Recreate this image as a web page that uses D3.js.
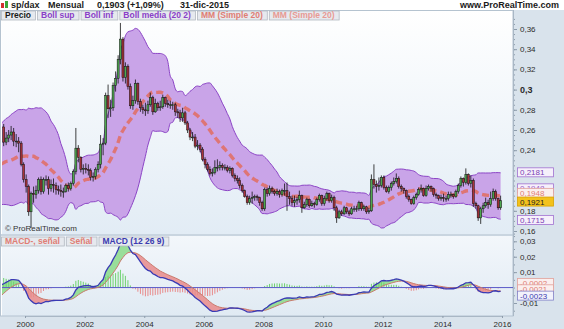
<!DOCTYPE html>
<html>
<head>
<meta charset="utf-8">
<script src="https://cdn.jsdelivr.net/npm/d3@7"></script>
<style>
body { margin: 0; background: #fff; }
svg { display: block; font-family: "Liberation Sans", Arial, sans-serif; }
</style>
</head>
<body>
<div id="chart"></div>
<script>
// monthly closes Jan 1997 - Mar 1999, only needed so the indicators are warmed up at the left edge
let warmupCloses = [.262,.249,.231,.242,.247,.236,.222,.225,.227,.246,.239,.228,
  .221,.223,.216,.218,.196,.192,.191,.198,.227,.235,.234,.246,
  .248,.255,.263]

// visible candles, Apr 1999 - Dec 2015
let closes = [.248,.252,.255,.258,.249,.249,.247,.226,.211,
  .204,.179,.197,.196,.200,.211,.199,.211,.211,.202,.206,.205,
  .201,.200,.199,.199,.205,.202,.207,.219,.242,.233,.221,.222,
  .221,.220,.213,.214,.221,.226,.246,.247,.294,.281,.282,.304,
  .311,.330,.350,.312,.323,.303,.284,.289,.306,.288,.282,.280,
  .279,.285,.292,.278,.286,.282,.283,.292,.286,.285,.285,.285,
  .278,.277,.272,.277,.267,.260,.253,.253,.244,.245,.241,.231,
  .226,.221,.217,.218,.223,.223,.225,.223,.223,.220,.222,.215,
  .212,.210,.205,.200,.194,.188,.192,.193,.194,.193,.188,.182,
  .201,.197,.202,.199,.197,.199,.196,.200,.200,.194,.192,.188,
  .190,.191,.195,.183,.186,.191,.185,.187,.186,.191,.195,.187,
  .192,.197,.190,.193,.183,.173,.179,.177,.183,.179,.177,.182,
  .182,.182,.188,.182,.184,.179,.180,.211,.206,.204,.205,.213,
  .203,.199,.203,.207,.209,.212,.204,.202,.200,.194,.191,.187,
  .193,.196,.201,.202,.195,.202,.204,.202,.196,.195,.192,.193,
  .192,.192,.196,.196,.194,.199,.205,.212,.208,.216,.207,.210,
  .187,.185,.173,.182,.185,.188,.186,.192,.199,.192,.183,.190]

let highs = [.266,.258,.260,.264,.262,.256,.253,.249,.228,
  .216,.206,.199,.204,.205,.213,.214,.213,.215,.214,.211,.212,
  .208,.205,.206,.203,.207,.208,.209,.221,.262,.245,.234,.226,
  .227,.226,.222,.218,.223,.229,.255,.252,.297,.305,.290,.307,
  .318,.334,.366,.352,.327,.325,.306,.294,.310,.307,.291,.285,
  .287,.289,.297,.294,.291,.288,.289,.295,.293,.290,.289,.288,
  .287,.281,.280,.282,.279,.269,.262,.258,.256,.250,.247,.243,
  .233,.228,.224,.222,.230,.231,.229,.227,.226,.225,.224,.223,
  .217,.215,.213,.207,.201,.196,.195,.199,.196,.196,.194,.190,
  .203,.203,.205,.204,.201,.202,.201,.202,.207,.208,.199,.195,
  .195,.194,.200,.196,.189,.193,.192,.190,.189,.193,.197,.196,
  .195,.199,.198,.196,.195,.185,.181,.181,.185,.184,.181,.184,
  .185,.185,.190,.189,.186,.185,.183,.216,.226,.210,.213,.215,
  .215,.205,.205,.209,.213,.217,.214,.206,.203,.201,.196,.192,
  .195,.198,.203,.206,.203,.205,.206,.205,.203,.198,.196,.196,
  .197,.195,.199,.199,.197,.201,.207,.214,.213,.222,.217,.215,
  .212,.189,.186,.184,.188,.193,.191,.199,.202,.201,.193,.195]

let lows = [.244,.245,.248,.250,.244,.243,.238,.224,.208,
  .198,.175,.163,.188,.192,.197,.196,.197,.205,.196,.199,.198,
  .196,.196,.194,.193,.198,.199,.200,.205,.216,.228,.218,.216,
  .217,.215,.210,.209,.211,.218,.222,.235,.245,.272,.273,.279,
  .298,.306,.325,.308,.306,.300,.281,.280,.286,.285,.278,.276,
  .274,.276,.283,.275,.277,.279,.279,.281,.283,.282,.281,.280,
  .274,.272,.268,.268,.265,.257,.250,.249,.242,.240,.238,.229,
  .222,.219,.215,.214,.216,.219,.220,.220,.220,.218,.217,.213,
  .209,.207,.202,.198,.193,.186,.186,.187,.190,.190,.185,.180,
  .180,.194,.195,.197,.195,.195,.193,.194,.195,.180,.186,.185,
  .184,.186,.188,.178,.182,.184,.183,.184,.183,.185,.189,.185,
  .185,.190,.188,.188,.180,.168,.172,.175,.176,.177,.175,.176,
  .179,.179,.180,.180,.180,.177,.177,.179,.202,.198,.200,.203,
  .201,.198,.197,.200,.205,.207,.202,.199,.197,.192,.189,.186,
  .186,.191,.195,.198,.194,.194,.200,.199,.194,.192,.190,.190,
  .189,.189,.190,.193,.192,.193,.197,.203,.204,.206,.205,.203,
  .184,.182,.170,.167,.178,.183,.182,.184,.190,.190,.181,.181]

// labelled ticks (0,2 and 0,22 are covered by the value boxes in the original)
let priceTicks = [0.16, 0.18, 0.24, 0.26, 0.28, 0.3, 0.32, 0.34, 0.36]
let macdTicks = [0.03, 0.02, 0.01, -0.01]
let yearTicks = [2000, 2002, 2004, 2006, 2008, 2010, 2012, 2014, 2016]

let priceLegend = [
  {text: "Precio", color: "#1a1a1a"},
  {text: "Boll sup", color: "#8a3fc8"},
  {text: "Boll inf", color: "#8a3fc8"},
  {text: "Boll media (20 2)", color: "#8a3fc8"},
  {text: "MM (Simple 20)", color: "#e07d74"},
  {text: "MM (Simple 20)", color: "#e89a94"}
]
let macdLegend = [
  {text: "MACD-, señal", color: "#e07d74"},
  {text: "Señal", color: "#e07d74"},
  {text: "MACD (12 26 9)", color: "#3b3bb0"}
]
// last-value boxes on the right axis (dy = nudge to keep them apart)
let priceBoxes = [
  {text: "0,2181", value: 0.2181, color: "#7b3fb5", fill: "#f6f0fb", stroke: "#a070d0", dy: 0},
  {text: "0,1948", value: 0.1948, color: "#9a5cc8", fill: "#f6f0fb", stroke: "#a070d0", dy: -7.5},
  {text: "0,1948", value: 0.1948, color: "#e07d74", fill: "#fbefee", stroke: "#e0a09a", dy: -3},
  {text: "0,1921", value: 0.1921, color: "#222", fill: "#f3c21b", stroke: "#d9a300", dy: 3},
  {text: "0,1715", value: 0.1715, color: "#7b3fb5", fill: "#f6f0fb", stroke: "#a070d0", dy: 0.5}
]
let macdBoxes = [
  {text: "-0,0002", value: -0.0002, color: "#e07d74", fill: "#fbefee", stroke: "#e0a09a", dy: -5},
  {text: "-0,0021", value: -0.0021, color: "#e07d74", fill: "#fbefee", stroke: "#e0a09a", dy: -1.5},
  {text: "-0,0023", value: -0.0023, color: "#3b3bb0", fill: "#f2f2fb", stroke: "#8080c8", dy: 4.5}
]

let svgWidth = 564, svgHeight = 329
let plotLeft = 2, plotRight = 513
let priceTop = 10, priceBottom = 234
let macdTop = 236, macdBottom = 316

let svg = d3.select("#chart").append("svg")
  .attr("width", svgWidth)
  .attr("height", svgHeight)

let loc = d3.formatLocale({decimal: ",", thousands: ".", grouping: [3], currency: ["", ""], minus: "-"})
let fmt = loc.format("~g")

// ---- data prep
let allCloses = warmupCloses.concat(closes)
let firstShown = warmupCloses.length
let dates = allCloses.map((c, i) => new Date(1997, i, 15))

let bars = closes.map((c, i) => {
  let k = i + firstShown
  return {date: dates[k], open: allCloses[k - 1], close: c, high: highs[i], low: lows[i]}
})

// bollinger 20 2
let boll = []
allCloses.forEach((c, i) => {
  if (i < 19) return
  let win = allCloses.slice(i - 19, i + 1)
  let m = d3.mean(win)
  let sd = Math.sqrt(d3.mean(win, v => (v - m) * (v - m)))
  boll.push({date: dates[i], mid: m, up: m + 2 * sd, lo: m - 2 * sd, i: i})
})
let bollShown = boll.filter(d => d.i >= firstShown - 1)

// macd 12 26 9
function ema(arr, n) {
  let k = 2 / (n + 1), out = [], prev = arr[0]
  arr.forEach((v, i) => { prev = i === 0 ? v : v * k + prev * (1 - k); out.push(prev) })
  return out
}
let e12 = ema(allCloses, 12), e26 = ema(allCloses, 26)
let macdLine = e12.map((v, i) => v - e26[i])
let signal = ema(macdLine, 9)
let macd = macdLine.map((v, i) => ({date: dates[i], macd: v, sig: signal[i], hist: v - signal[i], i: i}))
  .filter(d => d.i >= firstShown - 1)

// ---- scales
let x = d3.scaleTime()
  .domain([new Date(2000, 0, 1), new Date(2016, 0, 1)])
  .range([25, 502])
let y = d3.scaleLinear().domain([0.16, 0.36]).range([231, 29])
let ym = d3.scaleLinear().domain([-0.01, 0.03]).range([303, 241.3])

// ---- backgrounds
let defs = svg.append("defs")
let g1 = defs.append("linearGradient").attr("id", "bgPrice").attr("x1", 0).attr("y1", 0).attr("x2", 0).attr("y2", 1)
g1.append("stop").attr("offset", "0%").attr("stop-color", "#ffffff")
g1.append("stop").attr("offset", "100%").attr("stop-color", "#e2ecf5")
let g2 = defs.append("linearGradient").attr("id", "bgMacd").attr("x1", 0).attr("y1", 0).attr("x2", 0).attr("y2", 1)
g2.append("stop").attr("offset", "0%").attr("stop-color", "#f3f7fb")
g2.append("stop").attr("offset", "100%").attr("stop-color", "#e0eaf3")
defs.append("clipPath").attr("id", "clipPrice").append("rect")
  .attr("x", plotLeft).attr("y", priceTop).attr("width", plotRight - plotLeft).attr("height", priceBottom - priceTop)
defs.append("clipPath").attr("id", "clipMacd").append("rect")
  .attr("x", plotLeft).attr("y", macdTop).attr("width", plotRight - plotLeft).attr("height", macdBottom - macdTop)

svg.append("rect").attr("x", 0).attr("y", 0).attr("width", svgWidth).attr("height", svgHeight).attr("fill", "#ffffff")
svg.append("rect").attr("x", plotRight).attr("y", priceTop).attr("width", svgWidth - plotRight).attr("height", svgHeight - priceTop).attr("fill", "#d9e3ec")
svg.append("rect").attr("x", 0).attr("y", macdBottom).attr("width", plotRight).attr("height", svgHeight - macdBottom).attr("fill", "#d9e3ec")
svg.append("rect").attr("x", 0).attr("y", priceBottom).attr("width", plotRight).attr("height", macdTop - priceBottom).attr("fill", "#c9d5e0")
svg.append("rect").attr("x", plotLeft).attr("y", priceTop).attr("width", plotRight - plotLeft).attr("height", priceBottom - priceTop).attr("fill", "url(#bgPrice)")
svg.append("rect").attr("x", plotLeft).attr("y", macdTop).attr("width", plotRight - plotLeft).attr("height", macdBottom - macdTop).attr("fill", "url(#bgMacd)")
svg.append("rect").attr("x", 0.5).attr("y", priceTop + 0.5).attr("width", plotRight - 0.5).attr("height", macdBottom - priceTop - 0.5)
  .attr("fill", "none").attr("stroke", "#b5c3d0")

// ---- price panel
let pg = svg.append("g").attr("clip-path", "url(#clipPrice)")

pg.append("path").datum(bollShown)
  .attr("fill", "#c9a4e8")
  .attr("d", d3.area().x(d => x(d.date)).y0(d => y(d.lo)).y1(d => y(d.up)).curve(d3.curveMonotoneX))
pg.append("path").datum(bollShown)
  .attr("fill", "none").attr("stroke", "#8c45c6").attr("stroke-width", 1)
  .attr("d", d3.line().x(d => x(d.date)).y(d => y(d.up)).curve(d3.curveMonotoneX))
pg.append("path").datum(bollShown)
  .attr("fill", "none").attr("stroke", "#8c45c6").attr("stroke-width", 1)
  .attr("d", d3.line().x(d => x(d.date)).y(d => y(d.lo)).curve(d3.curveMonotoneX))
pg.append("path").datum(bollShown)
  .attr("fill", "none").attr("stroke", "#e07068").attr("stroke-width", 3.4)
  .attr("stroke-dasharray", "7,4").attr("opacity", 0.9)
  .attr("d", d3.line().x(d => x(d.date)).y(d => y(d.mid)).curve(d3.curveMonotoneX))

let candle = pg.selectAll("g.candle").data(bars).enter().append("g").attr("class", "candle")
candle.append("line")
  .attr("x1", d => x(d.date)).attr("x2", d => x(d.date))
  .attr("y1", d => y(d.high)).attr("y2", d => y(d.low))
  .attr("stroke", "#111").attr("stroke-width", 0.8)
candle.append("rect")
  .attr("x", d => x(d.date) - 1).attr("width", 2)
  .attr("y", d => y(Math.max(d.open, d.close)))
  .attr("height", d => Math.max(0.8, Math.abs(y(d.open) - y(d.close))))
  .attr("fill", d => d.close >= d.open ? "#4fa84f" : "#a8323a")
  .attr("stroke", "#111").attr("stroke-width", 0.5)

svg.append("text").attr("x", 5).attr("y", 231).attr("font-size", 8).attr("fill", "#333")
  .text("© ProRealTime.com")

// ---- macd panel
let mg = svg.append("g").attr("clip-path", "url(#clipMacd)")
mg.append("path").datum(macd).attr("fill", "#8fdc8f").attr("opacity", 0.9)
  .attr("d", d3.area().x(d => x(d.date)).y0(d => ym(d.sig)).y1(d => ym(Math.max(d.macd, d.sig))))
mg.append("path").datum(macd).attr("fill", "#e99090").attr("opacity", 0.9)
  .attr("d", d3.area().x(d => x(d.date)).y0(d => ym(d.sig)).y1(d => ym(Math.min(d.macd, d.sig))))
mg.selectAll("line.hist").data(macd.filter(d => d.i >= firstShown)).enter().append("line").attr("class", "hist")
  .attr("x1", d => x(d.date)).attr("x2", d => x(d.date))
  .attr("y1", ym(0)).attr("y2", d => ym(d.hist))
  .attr("stroke", d => d.hist >= 0 ? "#6fd26f" : "#e88a8a").attr("stroke-width", 1)
mg.append("line").attr("x1", plotLeft).attr("x2", plotRight).attr("y1", ym(0)).attr("y2", ym(0))
  .attr("stroke", "#5a5ac8").attr("stroke-width", 1)
mg.append("path").datum(macd).attr("fill", "none").attr("stroke", "#c97a6c").attr("stroke-width", 1)
  .attr("d", d3.line().x(d => x(d.date)).y(d => ym(d.sig)))
mg.append("path").datum(macd).attr("fill", "none").attr("stroke", "#3a3ab4").attr("stroke-width", 1.3)
  .attr("d", d3.line().x(d => x(d.date)).y(d => ym(d.macd)))

// ---- axes
let priceAxis = svg.append("g").attr("transform", `translate(${plotRight},0)`)
  .call(d3.axisRight(y).tickValues(priceTicks).tickSize(4).tickPadding(3).tickFormat(fmt))
let priceMinor = svg.append("g").attr("transform", `translate(${plotRight},0)`)
  .call(d3.axisRight(y).tickValues(d3.range(0.155, 0.3701, 0.005)).tickSize(2).tickFormat(""))
let macdAxis = svg.append("g").attr("transform", `translate(${plotRight},0)`)
  .call(d3.axisRight(ym).tickValues(macdTicks).tickSize(4).tickPadding(3).tickFormat(fmt))
let macdMinor = svg.append("g").attr("transform", `translate(${plotRight},0)`)
  .call(d3.axisRight(ym).tickValues(d3.range(-0.015, 0.0351, 0.005)).tickSize(2).tickFormat(""))
macdMinor.select(".domain").remove()
macdAxis.select(".domain").remove()
priceMinor.select(".domain").remove()
priceAxis.select(".domain").remove()
svg.append("line").attr("x1", plotRight + 0.5).attr("x2", plotRight + 0.5).attr("y1", priceTop).attr("y2", macdBottom)
  .attr("stroke", "#a9b7c5")
svg.selectAll(".tick line").attr("stroke", "#8d9cab")
svg.selectAll(".tick text").attr("font-size", 8).attr("fill", "#2b2b2b")
  .attr("font-family", "Liberation Sans, Arial, sans-serif")
priceAxis.selectAll(".tick text").filter(d => d === 0.3).attr("font-weight", "bold").attr("font-size", 9)

let xAxis = svg.append("g").attr("transform", `translate(0,${macdBottom})`)
  .call(d3.axisBottom(x).tickValues(yearTicks.map(v => new Date(v, 0, 1))).tickSize(2).tickPadding(3)
    .tickFormat(d3.timeFormat("%Y")))
xAxis.select(".domain").attr("stroke", "#a9b7c5")
xAxis.selectAll(".tick line").attr("stroke", "#8d9cab")
xAxis.selectAll(".tick text").attr("font-size", 8).attr("fill", "#2b2b2b")

// ---- value boxes
function drawBoxes(list, scale) {
  let bg = svg.append("g")
  list.forEach(b => {
    let cy = scale(b.value) + b.dy
    bg.append("rect").attr("x", plotRight + 4.5).attr("y", cy - 4.5).attr("width", 36).attr("height", 9)
      .attr("fill", b.fill).attr("stroke", b.stroke).attr("stroke-width", 0.8)
    bg.append("text").attr("x", plotRight + 7).attr("y", cy + 3).attr("font-size", 8)
      .attr("fill", b.color).text(b.text)
  })
}
drawBoxes(priceBoxes, y)
drawBoxes(macdBoxes, ym)

// ---- legends
function drawLegend(list, x0, y0) {
  let lg = svg.append("g")
  let cx = x0
  list.forEach(l => {
    let t = lg.append("text").attr("x", cx + 4).attr("y", y0 + 7.5).attr("font-size", 8.5)
      .attr("font-weight", "bold").attr("fill", l.color).text(l.text)
    let w = t.node().getComputedTextLength() + 8
    lg.insert("rect", "text").attr("x", cx + 0.5).attr("y", y0 + 0.5).attr("width", w).attr("height", 9)
      .attr("fill", "#e6e9ee").attr("stroke", "#b2b8c0").attr("stroke-width", 0.8)
    cx += w + 2
  })
}
drawLegend(priceLegend, 1, 10.5)
drawLegend(macdLegend, 1, 236.5)

// ---- title
svg.append("rect").attr("x", 1).attr("y", 3).attr("width", 3).attr("height", 5).attr("fill", "#d03030")
svg.append("rect").attr("x", 5).attr("y", 1).attr("width", 3).attr("height", 7).attr("fill", "#3aa83a")
let title = svg.append("text").attr("y", 8).attr("font-size", 9).attr("font-weight", "bold").attr("fill", "#1a1a1a")
title.append("tspan").attr("x", 11).text("sp/dax")
title.append("tspan").attr("x", 48).text("Mensual")
title.append("tspan").attr("x", 97).text("0,1903 (+1,09%)")
title.append("tspan").attr("x", 180).text("31-dic-2015")
svg.append("text").attr("x", 559).attr("y", 8).attr("text-anchor", "end").attr("font-size", 9)
  .attr("font-weight", "bold").attr("fill", "#1a1a1a").text("www.ProRealTime.com")
</script>
</body>
</html>
